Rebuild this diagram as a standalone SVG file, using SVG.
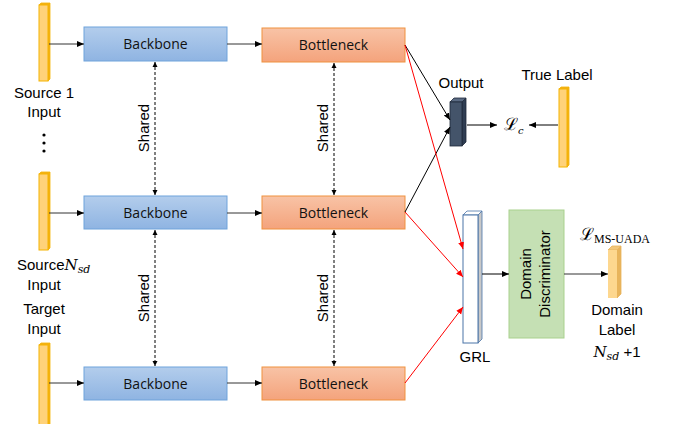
<svg xmlns="http://www.w3.org/2000/svg" width="677" height="424" viewBox="0 0 677 424">
<defs>
<linearGradient id="gBlue" x1="0" y1="0" x2="0" y2="1"><stop offset="0" stop-color="#b3cdec"/><stop offset="1" stop-color="#8fb4e2"/></linearGradient>
<linearGradient id="gOrange" x1="0" y1="0" x2="0" y2="1"><stop offset="0" stop-color="#f8c3a6"/><stop offset="1" stop-color="#f4a37c"/></linearGradient>
<marker id="ab" markerWidth="8" markerHeight="8" refX="7" refY="4" orient="auto" markerUnits="userSpaceOnUse"><path d="M0,1 L7,4 L0,7 Z" fill="#000"/></marker>
<marker id="ar" markerWidth="8" markerHeight="8" refX="7" refY="4" orient="auto" markerUnits="userSpaceOnUse"><path d="M0,1 L7,4 L0,7 Z" fill="#f00"/></marker>
<marker id="as" markerWidth="6" markerHeight="6" refX="5" refY="3" orient="auto-start-reverse" markerUnits="userSpaceOnUse"><path d="M0,0.5 L5,3 L0,5.5 Z" fill="#000"/></marker>
</defs>
<style>
.t{font-family:"Liberation Sans",Arial,sans-serif;font-size:15px;fill:#000;text-anchor:middle}
.c{font-family:"Open Sans","Liberation Sans",sans-serif;font-size:14px;fill:#111;text-anchor:middle}
.m{font-family:"DejaVu Serif","Liberation Serif",serif;font-style:italic;fill:#000}
.L{font-family:"DejaVu Serif","Liberation Serif",serif;fill:#000}
.bb{fill:url(#gBlue);stroke:#6fa3db;stroke-width:1}
.bn{fill:url(#gOrange);stroke:#f0913f;stroke-width:1}
.ln{stroke:#000;stroke-width:1;fill:none}
.lg{stroke:#333;stroke-width:1;fill:none}
.lr{stroke:#f00;stroke-width:1;fill:none}
.sh{stroke:#000;stroke-width:1;stroke-dasharray:3,2;fill:none}
.yf{fill:#ffd27a;stroke:#f5b400;stroke-width:1}
.ys{fill:#f2b01e;stroke:#f5b400;stroke-width:0.8}
</style>

<g id="src1">
<polygon class="ys" points="48,5 50,3 50,79 48,81"/>
<polygon class="ys" points="39,5 41,3 50,3 48,5"/>
<rect class="yf" x="39" y="5" width="9" height="76"/>
<text class="t" x="44" y="98">Source 1</text>
<text class="t" x="44" y="117">Input</text>
<circle cx="44" cy="135" r="1.6" fill="#000"/>
<circle cx="44" cy="143" r="1.6" fill="#000"/>
<circle cx="44" cy="151" r="1.6" fill="#000"/>
</g>
<g id="srcN">
<polygon class="ys" points="48,174 50,172 50,248 48,250"/>
<polygon class="ys" points="39,174 41,172 50,172 48,174"/>
<rect class="yf" x="39" y="174" width="9" height="76"/>
<text class="t" x="17" y="270" style="text-anchor:start">Source<tspan class="m" font-size="15">N</tspan><tspan class="m" font-size="11" dy="3">sd</tspan></text>
<text class="t" x="44" y="290">Input</text>
</g>
<g id="tgt">
<polygon class="ys" points="48,345 50,343 50,424 48,424"/>
<polygon class="ys" points="39,345 41,343 50,343 48,345"/>
<rect class="yf" x="39" y="345" width="9" height="82"/>
<text class="t" x="44" y="314">Target</text>
<text class="t" x="44" y="334">Input</text>
</g>

<g id="backbone1"><rect class="bb" x="84" y="27" width="143" height="34"/><text class="c" x="155.5" y="49">Backbone</text></g>
<g id="backbone2"><rect class="bb" x="84" y="196" width="143" height="33"/><text class="c" x="155.5" y="217.5">Backbone</text></g>
<g id="backbone3"><rect class="bb" x="84" y="367" width="143" height="33"/><text class="c" x="155.5" y="388.5">Backbone</text></g>

<g id="bottleneck1"><rect class="bn" x="262" y="28" width="143" height="34"/><text class="c" x="333.5" y="50">Bottleneck</text></g>
<g id="bottleneck2"><rect class="bn" x="262" y="196" width="143" height="33"/><text class="c" x="333.5" y="217.5">Bottleneck</text></g>
<g id="bottleneck3"><rect class="bn" x="262" y="367" width="143" height="33"/><text class="c" x="333.5" y="388.5">Bottleneck</text></g>

<g id="output">
<polygon fill="#2f3d52" stroke="#1f2a3a" stroke-width="0.8" points="462,102 466,98 466,142 462,146"/>
<polygon fill="#5a6a82" stroke="#1f2a3a" stroke-width="0.8" points="450,102 454,98 466,98 462,102"/>
<rect x="450" y="102" width="12" height="44" fill="#44546a" stroke="#1f2a3a" stroke-width="0.8"/>
<text class="t" x="461" y="88">Output</text>
</g>

<g id="lossc">
<text class="L" x="504" y="130" font-size="17">ℒ<tspan class="m" font-size="10" dy="4">c</tspan></text>
</g>

<g id="truelabel">
<polygon class="ys" points="567,89 569,87 569,165 567,167"/>
<polygon class="ys" points="559,89 561,87 569,87 567,89"/>
<rect class="yf" x="559" y="89" width="8" height="78"/>
<text class="t" x="557" y="80">True Label</text>
</g>

<g id="grl">
<polygon fill="#c8c8c8" stroke="#4a74a8" stroke-width="0.8" points="478,215 482,211 482,339 478,343"/>
<polygon fill="#fff" stroke="#4a74a8" stroke-width="0.8" points="463,215 467,211 482,211 478,215"/>
<rect x="463" y="215" width="15" height="128" fill="#fff" stroke="#4a74a8" stroke-width="1"/>
<text class="t" x="475" y="362">GRL</text>
</g>

<g id="discriminator">
<rect x="509" y="210" width="55" height="128" fill="#c5e0b4" stroke="#a9d18e" stroke-width="1"/>
<text class="t" transform="translate(531,274) rotate(-90)" font-size="16">Domain</text>
<text class="t" transform="translate(550,274) rotate(-90)" font-size="16">Discriminator</text>
</g>

<g id="domainlabel">
<polygon fill="#e8b45c" stroke="#e8b45c" stroke-width="0.8" points="617,250 621,246 621,294 617,298"/>
<polygon fill="#f2c77a" stroke="#e8b45c" stroke-width="0.8" points="608,250 612,246 621,246 617,250"/>
<rect x="608" y="250" width="9" height="48" fill="#fdd78f"/>
<text class="L" x="580" y="240" font-size="17">ℒ<tspan font-size="12" dy="3" font-family="'Liberation Serif',serif">MS-UADA</tspan></text>
<text class="t" x="617" y="315">Domain</text>
<text class="t" x="617" y="335">Label</text>
<text class="t" x="617" y="357"><tspan class="m" font-size="15">N</tspan><tspan class="m" font-size="11" dy="3">sd</tspan><tspan dy="-3"> +1</tspan></text>
</g>

<g id="connectors">
<line class="lg" x1="49" y1="44" x2="84" y2="44" marker-end="url(#ab)"/>
<line class="lg" x1="49" y1="213" x2="84" y2="213" marker-end="url(#ab)"/>
<line class="lg" x1="49" y1="383" x2="84" y2="383" marker-end="url(#ab)"/>
<line class="lg" x1="227" y1="44" x2="262" y2="44" marker-end="url(#ab)"/>
<line class="lg" x1="227" y1="213" x2="262" y2="213" marker-end="url(#ab)"/>
<line class="lg" x1="227" y1="383" x2="262" y2="383" marker-end="url(#ab)"/>

<line class="sh" x1="155" y1="62" x2="155" y2="195" marker-start="url(#as)" marker-end="url(#as)"/>
<line class="sh" x1="155" y1="230" x2="155" y2="366" marker-start="url(#as)" marker-end="url(#as)"/>
<line class="sh" x1="334" y1="63" x2="334" y2="195" marker-start="url(#as)" marker-end="url(#as)"/>
<line class="sh" x1="334" y1="230" x2="334" y2="366" marker-start="url(#as)" marker-end="url(#as)"/>
<text class="t" transform="translate(149,128) rotate(-90)">Shared</text>
<text class="t" transform="translate(149,298) rotate(-90)">Shared</text>
<text class="t" transform="translate(328,128) rotate(-90)">Shared</text>
<text class="t" transform="translate(328,298) rotate(-90)">Shared</text>

<line class="ln" x1="405" y1="45" x2="450" y2="120" marker-end="url(#ab)"/>
<line class="ln" x1="405" y1="212" x2="450" y2="127" marker-end="url(#ab)"/>
<line class="lr" x1="405" y1="45" x2="463" y2="249" marker-end="url(#ar)"/>
<line class="lr" x1="405" y1="212" x2="463" y2="277" marker-end="url(#ar)"/>
<line class="lr" x1="405" y1="383" x2="463" y2="307" marker-end="url(#ar)"/>

<line class="ln" x1="467" y1="125" x2="497" y2="125" marker-end="url(#ab)"/>
<line class="ln" x1="558" y1="125" x2="529" y2="125" marker-end="url(#ab)"/>
<line class="ln" x1="482" y1="274" x2="509" y2="274" marker-end="url(#ab)"/>
<line class="lg" x1="564" y1="274" x2="608" y2="274" marker-end="url(#ab)"/>
</g>
</svg>
